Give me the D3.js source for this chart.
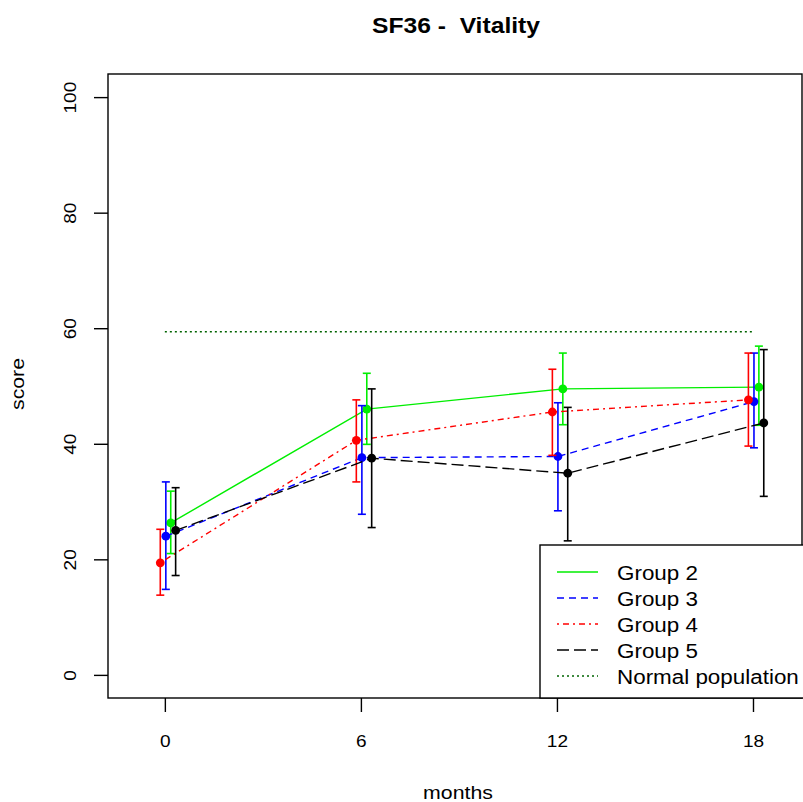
<!DOCTYPE html>
<html>
<head>
<meta charset="utf-8">
<script src="https://cdn.jsdelivr.net/npm/d3@7"></script>
<style>
  body { margin: 0; background: #fff; }
  svg { font-family: "Liberation Sans", Arial, sans-serif; }
</style>
</head>
<body>
<div id="chart"></div>
<script>
// months measured
const months = [0, 6, 12, 18];

// group means and error bar limits
const g2Mean = [26.3, 46.0, 49.5, 49.8];
const g2Low = [21.0, 39.9, 43.3, 43.2];
const g2High = [31.8, 52.2, 55.7, 56.9];

const g3Mean = [24.0, 37.6, 37.8, 47.3];
const g3Low = [14.8, 27.8, 28.4, 39.3];
const g3High = [33.4, 46.6, 47.1, 55.7];

const g4Mean = [19.4, 40.6, 45.5, 47.6];
const g4Low = [13.8, 33.4, 38.0, 39.6];
const g4High = [25.2, 47.6, 52.9, 55.7];

const g5Mean = [25.0, 37.5, 34.9, 43.6];
const g5Low = [17.2, 25.5, 23.2, 30.9];
const g5High = [32.4, 49.5, 46.3, 56.3];

const normalValue = 59.4;
const yTicks = [0, 20, 40, 60, 80, 100];

(function () {
    const W = 803, H = 802;
    const box = { left: 108, top: 74, right: 802, bottom: 698 };
    const stretch = 1.12; // text in the original renders a bit wider

    const svg = d3.select("#chart").append("svg")
        .attr("width", W).attr("height", H);

    const x = d3.scaleLinear().domain([-1.74, 19.5]).range([box.left, box.right]);
    const y = d3.scaleLinear().domain([-4, 104]).range([box.bottom, box.top]);

    const groups = [
        { name: "Group 2", color: "#00ee00", dash: null, off: 0.18, mean: g2Mean, lo: g2Low, hi: g2High },
        { name: "Group 3", color: "#0000ff", dash: "7,5", off: 0.03, mean: g3Mean, lo: g3Low, hi: g3High },
        { name: "Group 4", color: "#ff0000", dash: "2,4,6,4", off: -0.14, mean: g4Mean, lo: g4Low, hi: g4High },
        { name: "Group 5", color: "#000000", dash: "12,5", off: 0.33, mean: g5Mean, lo: g5Low, hi: g5High }
    ];

    // title
    svg.append("text")
        .attr("x", 456).attr("y", 33)
        .attr("text-anchor", "middle")
        .attr("font-weight", "bold")
        .attr("font-size", 22)
        .style("white-space", "pre")
        .text("SF36 -  Vitality");

    // normal population
    svg.append("line")
        .attr("x1", x(0)).attr("x2", x(18))
        .attr("y1", y(normalValue)).attr("y2", y(normalValue))
        .attr("stroke", "#006400").attr("stroke-width", 1.4)
        .attr("stroke-dasharray", "2,3");

    const line = d3.line().x(d => x(d.m)).y(d => y(d.v));

    groups.forEach(g => {
        const pts = months.map((m, i) => ({ m: m + g.off, v: g.mean[i], lo: g.lo[i], hi: g.hi[i] }));
        svg.append("path")
            .datum(pts)
            .attr("d", line)
            .attr("fill", "none")
            .attr("stroke", g.color)
            .attr("stroke-width", 1.4)
            .attr("stroke-dasharray", g.dash);

        const eb = svg.append("g").attr("stroke", g.color).attr("stroke-width", 1.6);
        pts.forEach(p => {
            eb.append("line").attr("x1", x(p.m)).attr("x2", x(p.m)).attr("y1", y(p.lo)).attr("y2", y(p.hi));
            eb.append("line").attr("x1", x(p.m) - 4).attr("x2", x(p.m) + 4).attr("y1", y(p.lo)).attr("y2", y(p.lo));
            eb.append("line").attr("x1", x(p.m) - 4).attr("x2", x(p.m) + 4).attr("y1", y(p.hi)).attr("y2", y(p.hi));
        });

        svg.append("g").selectAll("circle")
            .data(pts).enter().append("circle")
            .attr("cx", d => x(d.m)).attr("cy", d => y(d.v))
            .attr("r", 4.4).attr("fill", g.color);
    });

    // plot frame
    svg.append("rect")
        .attr("x", box.left).attr("y", box.top)
        .attr("width", box.right - box.left).attr("height", box.bottom - box.top)
        .attr("fill", "none").attr("stroke", "#000").attr("stroke-width", 1.4);

    // axes
    const yAxis = svg.append("g")
        .attr("transform", `translate(${box.left},0)`)
        .call(d3.axisLeft(y).tickValues(yTicks).tickSize(14).tickFormat(d3.format("d")));
    yAxis.select(".domain").remove();
    yAxis.selectAll("line").attr("stroke-width", 1.4);
    yAxis.selectAll("text")
        .attr("font-size", 17).attr("fill", "#000")
        .attr("font-family", "Liberation Sans, Arial, sans-serif")
        .attr("x", 0).attr("y", 0).attr("dy", null)
        .attr("text-anchor", "middle")
        .attr("transform", "translate(-32,0) rotate(-90)");

    const xAxis = svg.append("g")
        .attr("transform", `translate(0,${box.bottom})`)
        .call(d3.axisBottom(x).tickValues(months).tickSize(14));
    xAxis.select(".domain").remove();
    xAxis.selectAll("line").attr("stroke-width", 1.4);
    xAxis.selectAll("text")
        .attr("font-size", 17).attr("fill", "#000")
        .attr("font-family", "Liberation Sans, Arial, sans-serif")
        .attr("y", 49).attr("dy", null);

    svg.append("text")
        .attr("x", 458).attr("y", 799)
        .attr("text-anchor", "middle").attr("font-size", 19)
        .text("months");

    svg.append("text")
        .attr("transform", `translate(24,384) rotate(-90)`)
        .attr("text-anchor", "middle").attr("font-size", 19)
        .text("score");

    // legend
    const leg = svg.append("g");
    leg.append("rect")
        .attr("x", 540).attr("y", 545)
        .attr("width", 300).attr("height", 153)
        .attr("fill", "#fff").attr("stroke", "#000").attr("stroke-width", 1.4);
    const legItems = groups.map(g => ({ name: g.name, color: g.color, dash: g.dash }))
        .concat([{ name: "Normal population", color: "#006400", dash: "2,3" }]);
    legItems.forEach((d, i) => {
        const yy = 572 + i * 26;
        leg.append("line")
            .attr("x1", 557).attr("x2", 598).attr("y1", yy).attr("y2", yy)
            .attr("stroke", d.color).attr("stroke-width", 1.4)
            .attr("stroke-dasharray", d.dash);
        leg.append("text")
            .attr("x", 617).attr("y", yy + 8)
            .attr("font-size", 20)
            .text(d.name);
    });

    // widen every text a little to match the original's wider glyphs
    svg.selectAll("text").each(function () {
        const len = this.getComputedTextLength();
        d3.select(this).attr("textLength", len * stretch).attr("lengthAdjust", "spacingAndGlyphs");
    });
})();
</script>
</body>
</html>
